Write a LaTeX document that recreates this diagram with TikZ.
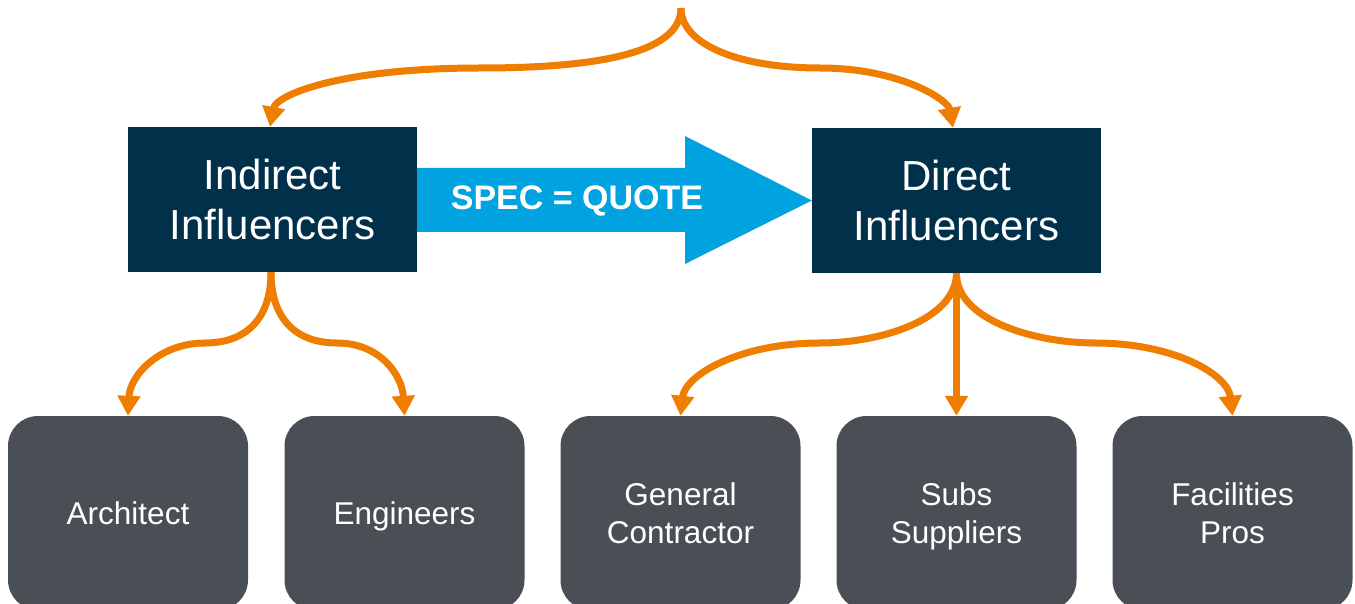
\documentclass[tikz,border=0pt]{standalone}
\usepackage{fontspec}
\setmainfont{Liberation Sans}
\usetikzlibrary{arrows.meta,calc}
\definecolor{navyC}{HTML}{00304A}
\definecolor{grayC}{HTML}{4A4F56}
\definecolor{orangeC}{HTML}{EE7D00}
\definecolor{blueC}{HTML}{00A3E0}
\newcommand{\mystrut}{\rule[-0.2\baselineskip]{0pt}{\baselineskip}}
\tikzset{
  topbox/.style={fill=navyC, text=white, minimum width=289pt, minimum height=145pt,
    inner sep=0pt, align=center, font=\fontsize{42}{50}\selectfont},
  botbox/.style={fill=grayC, text=white, minimum width=240pt, minimum height=194pt,
    rounded corners=30pt, inner sep=0pt, align=center, font=\fontsize{31.5}{38}\selectfont},
  flow/.style={draw=orangeC, line width=7pt, -{Triangle[width=22pt,length=20pt]}},
}
\begin{document}
\begin{tikzpicture}[x=1pt,y=-1pt]
\useasboundingbox (0,0) rectangle (1355,604);
\begin{scope}
\clip (0,0) rectangle (1355,604);
\node[topbox] (ind) at (272.5,199.5) {Indirect\mystrut\\Influencers\mystrut};
\node[topbox] (dir) at (956.5,200.5) {Direct\mystrut\\Influencers\mystrut};
\node[botbox] (arch) at (128,513) {Architect\mystrut};
\node[botbox] (eng) at (404.5,513) {Engineers\mystrut};
\node[botbox] (gc) at (680.5,513) {General\mystrut\\Contractor\mystrut};
\node[botbox] (subs) at (956.5,513) {Subs\mystrut\\Suppliers\mystrut};
\node[botbox] (fac) at (1232.5,513) {Facilities\mystrut\\Pros\mystrut};
\end{scope}
\coordinate (top) at (681,8);
% blue arrow
\fill[blueC] (ind.east |- 0,168) -- (685,168) -- (685,136) -- (dir.west) -- (685,264) -- (685,232) -- (ind.east |- 0,232) -- cycle;
\node[text=white, font=\bfseries\fontsize{34}{40}\selectfont] (spec) at (577,200.5) {SPEC = QUOTE};
% top brace arrows
\draw[flow] (top) .. controls (681,55) and (590,68) .. (480,68)
  .. controls (340,68) and (276,95) .. (ind.north -| 270,0);
\draw[flow] (top) .. controls (681,45) and (740,68) .. (820,68)
  .. controls (900,68) and (948,100) .. (dir.north -| 953,0);
% indirect to children
\draw[flow] (ind.south -| 271,0) .. controls (271,320) and (245,343) .. (205,343)
  .. controls (160,343) and (130,375) .. (arch.north);
\draw[flow] (ind.south -| 271,0) .. controls (271,320) and (297,343) .. (337,343)
  .. controls (380,343) and (402,375) .. (eng.north);
% direct to children
\draw[flow] (dir.south) .. controls (956,320) and (880,343) .. (820,343)
  .. controls (740,343) and (685,375) .. (gc.north);
\draw[flow] (dir.south) -- (subs.north);
\draw[flow] (dir.south) .. controls (956,320) and (1035,343) .. (1095,343)
  .. controls (1175,343) and (1228,375) .. (fac.north);
\end{tikzpicture}
\end{document}
